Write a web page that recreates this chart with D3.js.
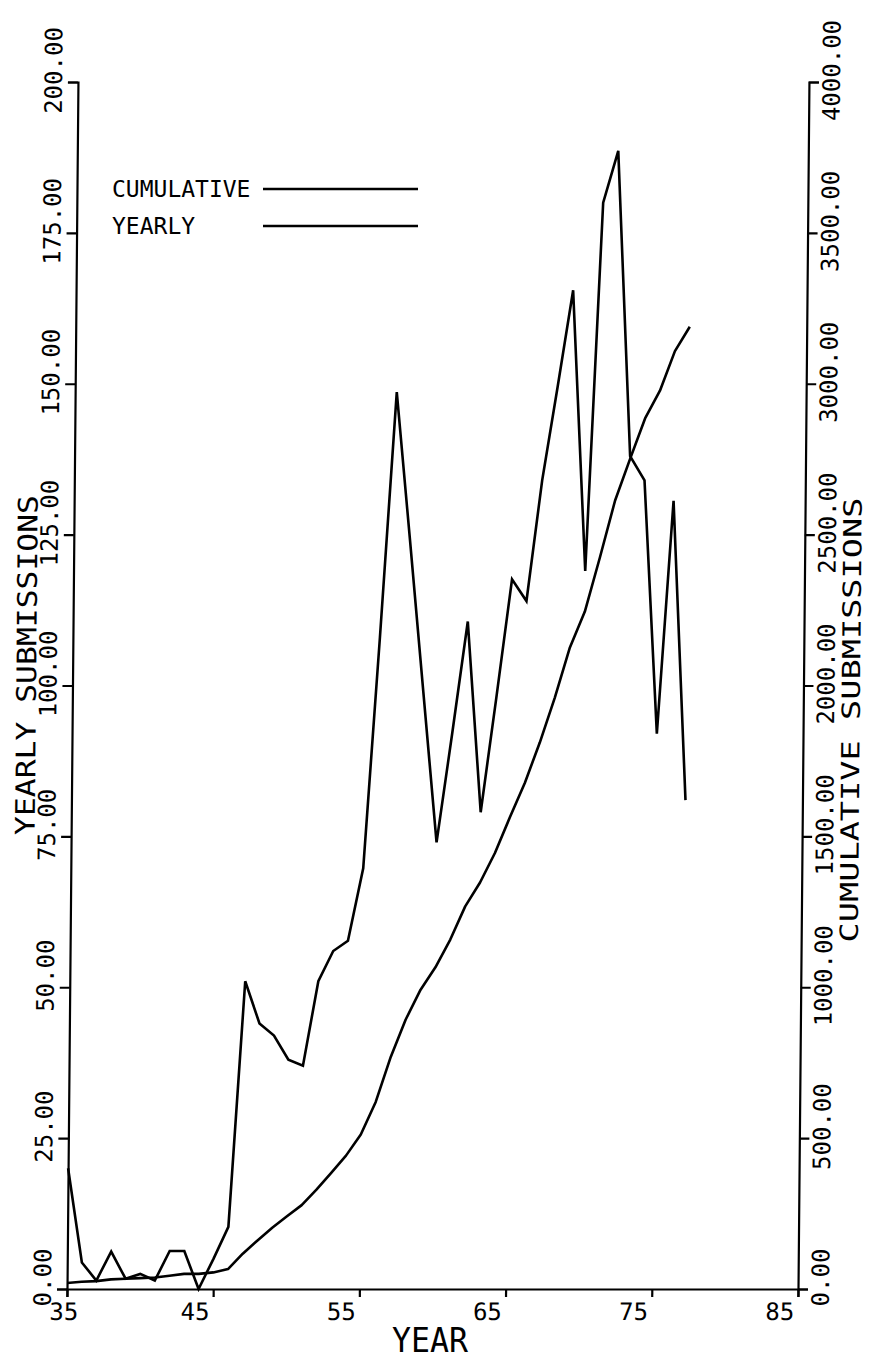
<!DOCTYPE html>
<html>
<head>
<meta charset="utf-8">
<script src="https://cdn.jsdelivr.net/npm/d3@7/dist/d3.min.js"></script>
<style>
body { margin: 0; background: #fff; }
text { font-family: "DejaVu Sans Mono", monospace; fill: #000; }
</style>
</head>
<body>
<svg id="chart"></svg>
<script>
// values, year = 19xx
var years = [35,36,37,38,39,40,41,42,43,44,45,46,47,48,49,50,51,52,53,54,55,56,
             57,58,59,60,61,62,63,64,65,66,67,68,69,70,71,72,73,74,75,76,77];
var yearly = [20,4.4,1.4,6.2,1.7,2.5,1.4,6.3,6.3,0,5,10.3,51,44,42,38,37,51,56,57.7,69.7,108,
              148.6,124,99,74,92,110.6,79,98,117.6,114,134,149.5,165.5,119,180,188.6,138,134,92,130.6,81];
var cumulative = [20,24,26,32,34,36,38,44,50,50,55,66,117,161,203,241,278,329,385,442,512,620,
                  769,893,992,1066,1158,1268,1347,1445,1563,1677,1811,1960,2126,2245,2425,2613,2751,2885,2977,3108,3189];
var xTicks = [35,45,55,65,75,85];
var leftTicks = [0,25,50,75,100,125,150,175,200];
var rightTicks = [0,500,1000,1500,2000,2500,3000,3500,4000];
var legendNames = ["CUMULATIVE","YEARLY"];

var width = 869, height = 1359;
var x0 = 67, x1 = 798, yBottom = 1289, yTop = 82;

var svg = d3.select("#chart")
    .attr("width", width)
    .attr("height", height);

// the scanned plot leans a little to the right at the top
var g = svg.append("g")
    .attr("transform", "translate(0," + yBottom + ") skewX(-0.52) translate(0," + (-yBottom) + ")");

var x = d3.scaleLinear().domain([35, 85]).range([x0, x1]);
var y = d3.scaleLinear().domain([0, 200]).range([yBottom, yTop]);
var yR = d3.scaleLinear().domain([0, 4000]).range([yBottom, yTop]);

function styleAxis(ax) {
    ax.attr("font-family", null).attr("font-size", null);
    ax.select(".domain").attr("stroke", "#000").attr("stroke-width", 2.2);
    ax.selectAll(".tick line").attr("stroke", "#000").attr("stroke-width", 2.2);
    ax.selectAll("text").style("font-size", "24px");
}

// bottom axis
var xAxis = g.append("g")
    .attr("transform", "translate(0," + yBottom + ")")
    .call(d3.axisBottom(x).tickValues(xTicks).tickFormat(d3.format("d")).tickSize(8).tickSizeOuter(8));
styleAxis(xAxis);
xAxis.selectAll("text")
    .attr("text-anchor", "end")
    .attr("dy", null)
    .attr("y", 31)
    .attr("x", function(d) { return d === 35 ? 11 : -4; });

// left axis
var lAxis = g.append("g")
    .attr("transform", "translate(" + x0 + ",0)")
    .call(d3.axisLeft(y).tickValues(leftTicks).tickFormat(d3.format(".2f")).tickSize(10).tickSizeOuter(10));
styleAxis(lAxis);
lAxis.selectAll("text")
    .attr("x", null).attr("dy", null)
    .attr("text-anchor", "middle")
    .attr("dominant-baseline", "central")
    .attr("transform", "translate(-24,-12) rotate(-90)");

// right axis
var rAxis = g.append("g")
    .attr("transform", "translate(" + x1 + ",0)")
    .call(d3.axisRight(yR).tickValues(rightTicks).tickFormat(d3.format(".2f")).tickSize(10).tickSizeOuter(10));
styleAxis(rAxis);
rAxis.selectAll("text")
    .attr("x", null).attr("dy", null)
    .attr("text-anchor", "middle")
    .attr("dominant-baseline", "central")
    .attr("transform", "translate(23,-12) rotate(-90)");

// axis titles
g.append("text")
    .attr("transform", "translate(21,665) rotate(-90)")
    .attr("text-anchor", "middle")
    .attr("dominant-baseline", "central")
    .attr("textLength", 340)
    .attr("lengthAdjust", "spacingAndGlyphs")
    .style("font-size", "27px")
    .text("YEARLY SUBMISSIONS");

g.append("text")
    .attr("transform", "translate(846,720) rotate(-90)")
    .attr("text-anchor", "middle")
    .attr("dominant-baseline", "central")
    .attr("textLength", 445)
    .attr("lengthAdjust", "spacingAndGlyphs")
    .style("font-size", "25px")
    .text("CUMULATIVE SUBMISSIONS");

svg.append("text")
    .attr("x", 430)
    .attr("y", 1352)
    .attr("text-anchor", "middle")
    .attr("textLength", 76)
    .attr("lengthAdjust", "spacingAndGlyphs")
    .style("font-size", "33px")
    .text("YEAR");

// series
var yearlyData = years.map(function(d, i) { return [d, yearly[i]]; });
var cumData = years.map(function(d, i) { return [d, cumulative[i]]; });

g.append("path")
    .datum(cumData)
    .attr("fill", "none")
    .attr("stroke", "#000")
    .attr("stroke-width", 2.6)
    .attr("stroke-linejoin", "round")
    .attr("d", d3.line().x(function(d) { return x(d[0]); }).y(function(d) { return yR(d[1]); }));

g.append("path")
    .datum(yearlyData)
    .attr("fill", "none")
    .attr("stroke", "#000")
    .attr("stroke-width", 2.6)
    .attr("stroke-linejoin", "miter")
    .attr("d", d3.line().x(function(d) { return x(d[0]); }).y(function(d) { return y(d[1]); }));

// legend
var legend = svg.append("g");
legend.selectAll("text")
    .data(legendNames)
    .enter().append("text")
    .attr("x", 112)
    .attr("y", function(d, i) { return 197 + i * 37; })
    .style("font-size", "23px")
    .text(function(d) { return d; });
legend.selectAll("line")
    .data(legendNames)
    .enter().append("line")
    .attr("x1", 263)
    .attr("x2", 418)
    .attr("y1", function(d, i) { return 189 + i * 37; })
    .attr("y2", function(d, i) { return 189 + i * 37; })
    .attr("stroke", "#000")
    .attr("stroke-width", 2.4);
</script>
</body>
</html>
